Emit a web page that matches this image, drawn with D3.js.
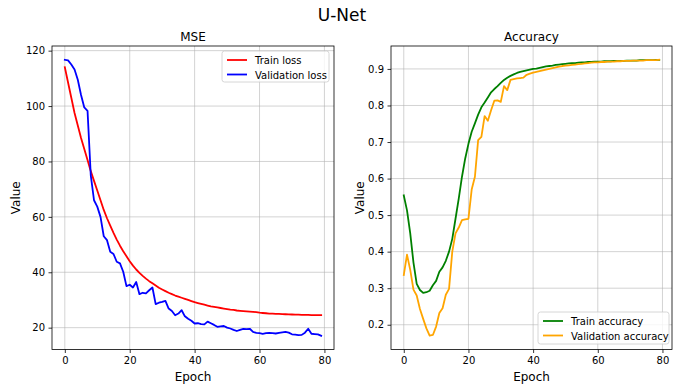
<!DOCTYPE html>
<html><head><meta charset="utf-8">
<script src="https://cdn.jsdelivr.net/npm/d3@7"></script>
<style>
body{margin:0;background:#fff;}
svg{display:block;font-family:"DejaVu Sans",sans-serif;}
</style></head>
<body>
<svg id="c" width="684" height="385"></svg>
<script>
const epochs = d3.range(80);
const trainLoss = [114,108.5,103,97.5,93,88.5,84.5,80.5,76.5,73,69.5,66,62.5,59.5,56.8,54.2,51.8,49.6,47.6,45.8,
44,42.4,41,39.8,38.7,37.7,36.8,36,35.2,34.4,33.8,33.2,32.6,32.1,31.6,31.2,30.8,30.4,30,29.6,
29.2,28.9,28.6,28.3,28,27.7,27.5,27.3,27.1,26.9,26.7,26.5,26.4,26.2,26.1,26,25.9,25.8,25.7,25.6,
25.4,25.3,25.2,25.1,25.05,25,24.95,24.9,24.85,24.8,24.75,24.7,24.7,24.65,24.6,24.6,24.55,24.55,24.5,24.5];
const valLoss = [116.7,116.5,115,113.2,109.5,104,99.5,98.3,75,66,63.7,60,53,51.6,47.4,46.6,43.8,43.2,40.2,35,
35.5,34.5,36.5,32.1,32.6,32.4,33.5,34.5,28.5,29,29.3,29.7,26.9,26,24.5,25.1,26.3,24.1,23.2,22.5,
21.5,21.6,21.3,21.2,22.2,21.6,21,20.3,20.5,20.6,20,19.7,19.2,18.8,19.2,19.6,19.5,19.6,18.5,18.1,
18,17.8,18,18.1,18,17.9,18.1,18.3,18.5,18.2,17.6,17.5,17.3,17.4,18.2,19.6,17.8,17.7,17.6,17.1];
const trainAcc = [0.554,0.513,0.45,0.37,0.312,0.295,0.287,0.289,0.293,0.308,0.32,0.345,0.357,0.375,0.4,0.435,0.49,0.545,0.605,0.655,
0.695,0.728,0.751,0.775,0.795,0.808,0.822,0.836,0.845,0.853,0.862,0.87,0.876,0.881,0.885,0.889,0.892,0.894,0.896,0.898,
0.9,0.901,0.903,0.905,0.907,0.908,0.909,0.911,0.912,0.913,0.914,0.915,0.916,0.916,0.917,0.918,0.918,0.919,0.919,0.92,
0.92,0.92,0.921,0.921,0.921,0.922,0.922,0.922,0.922,0.923,0.923,0.923,0.923,0.924,0.924,0.924,0.924,0.924,0.925,0.925];
const valAcc = [0.336,0.392,0.35,0.296,0.28,0.243,0.216,0.19,0.17,0.172,0.195,0.232,0.245,0.282,0.298,0.4,0.45,0.466,0.486,0.488,
0.49,0.57,0.605,0.705,0.714,0.771,0.758,0.787,0.813,0.814,0.81,0.853,0.842,0.87,0.872,0.874,0.875,0.876,0.884,0.887,
0.89,0.892,0.894,0.896,0.898,0.9,0.902,0.904,0.906,0.908,0.909,0.91,0.911,0.912,0.913,0.914,0.915,0.916,0.917,0.918,
0.918,0.919,0.919,0.92,0.92,0.92,0.921,0.921,0.922,0.922,0.922,0.923,0.923,0.923,0.923,0.924,0.924,0.924,0.924,0.925];
const xTicks = [0,20,40,60,80];
const lossTicks = [20,40,60,80,100,120];
const accTicks = [0.2,0.3,0.4,0.5,0.6,0.7,0.8,0.9];
const figTitle = "U-Net";

const svg = d3.select("#c");
svg.append("text").attr("x",342).attr("y",21).attr("text-anchor","middle")
  .attr("font-size",17).attr("fill","#000").text(figTitle);

function panel(opt){
  const {x0,x1,y0,y1,series,yTicks,yFmt,title,legendPos} = opt;
  const all = series.flatMap(s=>s.values);
  const mn = d3.min(all), mx = d3.max(all), pad=(mx-mn)*0.05;
  const xs = d3.scaleLinear().domain([-3.95,82.95]).range([x0,x1]);
  const ys = d3.scaleLinear().domain([mn-pad,mx+pad]).range([y1,y0]);
  const g = svg.append("g");
  g.append("g").selectAll("line").data(xTicks).join("line")
    .attr("x1",d=>xs(d)).attr("x2",d=>xs(d)).attr("y1",y0).attr("y2",y1)
    .attr("stroke","#b0b0b0").attr("stroke-opacity",0.7).attr("stroke-width",0.8);
  g.append("g").selectAll("line").data(yTicks).join("line")
    .attr("y1",d=>ys(d)).attr("y2",d=>ys(d)).attr("x1",x0).attr("x2",x1)
    .attr("stroke","#b0b0b0").attr("stroke-opacity",0.7).attr("stroke-width",0.8);
  series.forEach(s=>{
    g.append("path").datum(s.values)
      .attr("d",d3.line().x((d,i)=>xs(epochs[i])).y(d=>ys(d)))
      .attr("fill","none").attr("stroke",s.color).attr("stroke-width",1.8)
      .attr("stroke-linejoin","round").attr("stroke-linecap","square");
  });
  const ax = g.append("g").attr("transform",`translate(0,${y1})`)
    .call(d3.axisBottom(xs).tickValues(xTicks).tickSize(3.5).tickPadding(3.5));
  const ay = g.append("g").attr("transform",`translate(${x0},0)`)
    .call(d3.axisLeft(ys).tickValues(yTicks).tickFormat(yFmt).tickSize(3.5).tickPadding(3.5));
  [ax,ay].forEach(a=>{
    a.select(".domain").remove();
    a.selectAll("line").attr("stroke","#000").attr("stroke-width",0.8);
    a.selectAll("text").attr("font-size",10).attr("font-family","DejaVu Sans").attr("fill","#000");
  });
  g.append("rect").attr("x",x0).attr("y",y0).attr("width",x1-x0).attr("height",y1-y0)
    .attr("fill","none").attr("stroke","#000").attr("stroke-width",0.8);
  g.append("text").attr("x",(x0+x1)/2).attr("y",y0-5).attr("text-anchor","middle")
    .attr("font-size",12).text(title);
  g.append("text").attr("x",(x0+x1)/2).attr("y",y1+31).attr("text-anchor","middle")
    .attr("font-size",12).text("Epoch");
  g.append("text").attr("transform",`translate(${x0-opt.ylabOff},${(y0+y1)/2}) rotate(-90)`)
    .attr("text-anchor","middle").attr("font-size",12).text("Value");
  const [lx,ly,lw,lh] = legendPos;
  const lg = g.append("g");
  lg.append("rect").attr("x",lx).attr("y",ly).attr("width",lw).attr("height",lh).attr("rx",2.5)
    .attr("fill","#fff").attr("fill-opacity",0.8).attr("stroke","#ccc").attr("stroke-width",0.8);
  series.forEach((s,i)=>{
    const yy = ly+9+i*14.5;
    lg.append("line").attr("x1",lx+5).attr("x2",lx+25).attr("y1",yy).attr("y2",yy)
      .attr("stroke",s.color).attr("stroke-width",1.8);
    lg.append("text").attr("x",lx+33).attr("y",yy+4).attr("font-size",10).text(s.name);
  });
}

panel({x0:52,x1:334,y0:46,y1:349.5,yTicks:lossTicks,yFmt:d3.format("d"),title:"MSE",ylabOff:32,
  series:[{name:"Train loss",values:trainLoss,color:"#ff0000"},{name:"Validation loss",values:valLoss,color:"#0000ff"}],
  legendPos:[222,51,107,31]});
panel({x0:391,x1:672,y0:46,y1:349.5,yTicks:accTicks,yFmt:d3.format(".1f"),title:"Accuracy",ylabOff:27,
  series:[{name:"Train accuracy",values:trainAcc,color:"#008000"},{name:"Validation accuracy",values:valAcc,color:"#ffa500"}],
  legendPos:[538,312,131,32]});
</script>
</body></html>
